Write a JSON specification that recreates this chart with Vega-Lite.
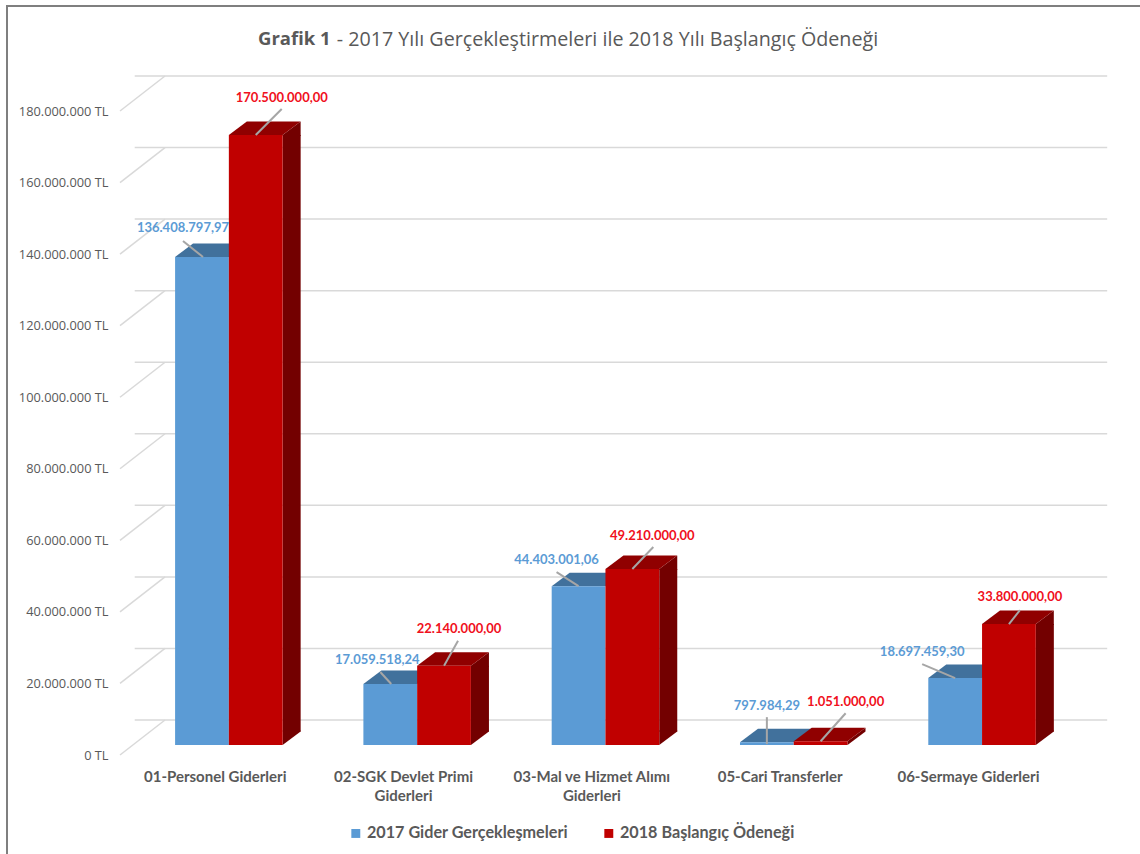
{"$schema":"https://vega.github.io/schema/vega-lite/v6.json","autosize":{"type":"none"},"padding":{"left":134.7,"top":101,"right":63.8,"bottom":109},"width":941.5,"height":644,"background":"white","config":{"view":{"stroke":null}},
"title":{"text":"Grafik 1","subtitle":"- 2017 Yılı Gerçekleştirmeleri ile 2018 Yılı Başlangıç Ödeneği","anchor":"start","frame":"group","dx":123.3,"offset":-48,"font":"Open Sans","fontSize":18.5,"fontWeight":"bold","color":"#595959","subtitleFont":"Open Sans","subtitleFontSize":19.7,"subtitleColor":"#595959","subtitlePadding":-19,"encode":{"subtitle":{"update":{"dx":{"value":202}}}}},
"data":{"values":[
{"category":"01-Personel Giderleri","series":"2017 Gider Gerçekleşmeleri","value":136408797.97,"label":"136.408.797,97"},
{"category":"01-Personel Giderleri","series":"2018 Başlangıç Ödeneği","value":170500000,"label":"170.500.000,00"},
{"category":"02-SGK Devlet Primi Giderleri","series":"2017 Gider Gerçekleşmeleri","value":17059518.24,"label":"17.059.518,24"},
{"category":"02-SGK Devlet Primi Giderleri","series":"2018 Başlangıç Ödeneği","value":22140000,"label":"22.140.000,00"},
{"category":"03-Mal ve Hizmet Alımı Giderleri","series":"2017 Gider Gerçekleşmeleri","value":44403001.06,"label":"44.403.001,06"},
{"category":"03-Mal ve Hizmet Alımı Giderleri","series":"2018 Başlangıç Ödeneği","value":49210000,"label":"49.210.000,00"},
{"category":"05-Cari Transferler","series":"2017 Gider Gerçekleşmeleri","value":797984.29,"label":"797.984,29"},
{"category":"05-Cari Transferler","series":"2018 Başlangıç Ödeneği","value":1051000,"label":"1.051.000,00"},
{"category":"06-Sermaye Giderleri","series":"2017 Gider Gerçekleşmeleri","value":18697459.30,"label":"18.697.459,30"},
{"category":"06-Sermaye Giderleri","series":"2018 Başlangıç Ödeneği","value":33800000,"label":"33.800.000,00"}]},
"layer":[
{"data":{"values":[{"tick":0},{"tick":20000000},{"tick":40000000},{"tick":60000000},{"tick":80000000},{"tick":100000000},{"tick":120000000},{"tick":140000000},{"tick":160000000},{"tick":180000000}]},
"encoding":{"y":{"field":"tick","type":"quantitative","scale":{"domain":[0,180000000],"nice":false,"zero":true},"axis":{"title":null,"values":[0,20000000,40000000,60000000,80000000,100000000,120000000,140000000,160000000,180000000],"domain":false,"ticks":false,"grid":false,"labelPadding":26.7,"labelOffset":10,"labelFont":"Open Sans","labelFontSize":12.8,"labelColor":"#595959","labelExpr":"replace(format(datum.value,','),/,/g,'.')+' TL'"}}},
"layer":[
{"mark":{"type":"rule","color":"#d9d9d9","strokeWidth":1.5,"xOffset":31,"x2Offset":35.5,"yOffset":-25}},
{"mark":{"type":"point","shape":"M-108.85 10L-63.85 -25","size":4,"filled":false,"stroke":"#d9d9d9","strokeWidth":1.5,"opacity":1},"encoding":{"x":{"datum":"01-Personel Giderleri"}}}
]},
{"mark":{"type":"point","shape":"M911.15 -95L-221.85 -95L-221.85 753","size":4,"filled":false,"stroke":"#7f7f7f","strokeWidth":2,"opacity":1},"transform":[{"filter":"datum.label=='170.500.000,00'"}],"encoding":{"x":{"datum":"01-Personel Giderleri"},"y":{"datum":180000000}}},
{"encoding":{"x":{"field":"category","type":"nominal","sort":null,"scale":{"domain":["01-Personel Giderleri","02-SGK Devlet Primi Giderleri","03-Mal ve Hizmet Alımı Giderleri","05-Cari Transferler","06-Sermaye Giderleri"],"paddingInner":0.429,"paddingOuter":0.2145},"axis":{"title":null,"domain":false,"ticks":false,"labelAngle":0,"labelAlign":"center","labelPadding":24,"labelOffset":-13.6,"labelFont":"Lato","labelFontWeight":"bold","labelFontSize":15,"labelColor":"#595959","labelLineHeight":19,"labelLimit":300,"labelBaseline":"top","labelExpr":"datum.label=='02-SGK Devlet Primi Giderleri'?['02-SGK Devlet Primi','Giderleri']:datum.label=='03-Mal ve Hizmet Alımı Giderleri'?['03-Mal ve Hizmet Alımı','Giderleri']:datum.label"}},
"xOffset":{"field":"series","type":"nominal","sort":null,"scale":{"domain":["2017 Gider Gerçekleşmeleri","2018 Başlangıç Ödeneği"]}},
"y":{"field":"value","type":"quantitative"}},
"layer":[
{"transform":[{"filter":"datum.series=='2017 Gider Gerçekleşmeleri'"}],"mark":{"type":"point","shape":"M-26.9 0L-8.9 -13.5L44.9 -13.5L26.9 0Z","size":4,"filled":true,"fill":"#41719c","stroke":null,"opacity":1}},
{"transform":[{"filter":"datum.series=='2017 Gider Gerçekleşmeleri'"}],"mark":{"type":"bar"},"encoding":{"color":{"field":"series","type":"nominal","sort":null,"scale":{"domain":["2017 Gider Gerçekleşmeleri","2018 Başlangıç Ödeneği"],"range":["#5b9bd5","#c00000"]},"legend":{"title":null,"orient":"none","legendX":213,"legendY":724,"direction":"horizontal","symbolType":"square","symbolSize":80,"symbolOpacity":1,"labelFont":"Lato","labelFontWeight":"bold","labelFontSize":16.2,"labelColor":"#595959","labelLimit":300,"labelOffset":3,"columnPadding":32,"padding":0}}}},
{"transform":[{"filter":"datum.series=='2018 Başlangıç Ödeneği'&&datum.value>5000000"}],"mark":{"type":"rule","strokeWidth":18,"xOffset":62.8,"y2Offset":-13.5,"color":"#730000"},"encoding":{"xOffset":null,"y2":{"datum":0}}},
{"transform":[{"filter":"datum.series=='2018 Başlangıç Ödeneği'&&datum.value>5000000"}],"mark":{"type":"point","shape":"M26.9 0L44.9 -13.5L44.9 1L26.9 1Z","size":4,"filled":true,"fill":"#730000","stroke":null,"opacity":1}},
{"transform":[{"filter":"datum.series=='2018 Başlangıç Ödeneği'&&datum.value>5000000"}],"mark":{"type":"point","shape":"M26.9 0L44.9 -13.5L44.9 -14.5L26.9 -14.5Z","size":4,"filled":true,"fill":"#730000","stroke":null,"opacity":1},"encoding":{"y":{"datum":0}}},
{"transform":[{"filter":"datum.series=='2018 Başlangıç Ödeneği'&&datum.value<5000000"}],"mark":{"type":"point","shape":"M26.9 0L44.9 -13.5L44.9 -9.7L26.9 3.8Z","size":4,"filled":true,"fill":"#730000","stroke":null,"opacity":1}},
{"transform":[{"filter":"datum.series=='2018 Başlangıç Ödeneği'"}],"mark":{"type":"point","shape":"M-26.9 0L-8.9 -13.5L44.9 -13.5L26.9 0Z","size":4,"filled":true,"fill":"#900000","stroke":null,"opacity":1}},
{"transform":[{"filter":"datum.series=='2018 Başlangıç Ödeneği'"}],"mark":{"type":"bar"},"encoding":{"color":{"field":"series","type":"nominal","sort":null}}},
{"transform":[{"filter":"datum.label=='136.408.797,97'"}],"layer":[{"mark":{"type":"point","shape":"M-19 -16L1 0","size":4,"filled":false,"stroke":"#a6a6a6","opacity":1}},{"mark":{"type":"text","dx":-19,"dy":-29,"font":"Lato","fontWeight":"bold","fontSize":13,"color":"#5b9bd5"},"encoding":{"text":{"field":"label"}}}]},
{"transform":[{"filter":"datum.label=='170.500.000,00'"}],"layer":[{"mark":{"type":"point","shape":"M26 -26L0 0","size":4,"filled":false,"stroke":"#a6a6a6","opacity":1}},{"mark":{"type":"text","dx":26,"dy":-37,"font":"Lato","fontWeight":"bold","fontSize":13,"color":"#f01020"},"encoding":{"text":{"field":"label"}}}]},
{"transform":[{"filter":"datum.label=='17.059.518,24'"}],"layer":[{"mark":{"type":"point","shape":"M-10 -12L1 0","size":4,"filled":false,"stroke":"#a6a6a6","opacity":1}},{"mark":{"type":"text","dx":-13,"dy":-24,"font":"Lato","fontWeight":"bold","fontSize":13,"color":"#5b9bd5"},"encoding":{"text":{"field":"label"}}}]},
{"transform":[{"filter":"datum.label=='22.140.000,00'"}],"layer":[{"mark":{"type":"point","shape":"M14 -25L0 0","size":4,"filled":false,"stroke":"#a6a6a6","opacity":1}},{"mark":{"type":"text","dx":15,"dy":-37,"font":"Lato","fontWeight":"bold","fontSize":13,"color":"#f01020"},"encoding":{"text":{"field":"label"}}}]},
{"transform":[{"filter":"datum.label=='44.403.001,06'"}],"layer":[{"mark":{"type":"point","shape":"M-22 -14L0 0","size":4,"filled":false,"stroke":"#a6a6a6","opacity":1}},{"mark":{"type":"text","dx":-22,"dy":-26,"font":"Lato","fontWeight":"bold","fontSize":13,"color":"#5b9bd5"},"encoding":{"text":{"field":"label"}}}]},
{"transform":[{"filter":"datum.label=='49.210.000,00'"}],"layer":[{"mark":{"type":"point","shape":"M21 -22L0 0","size":4,"filled":false,"stroke":"#a6a6a6","opacity":1}},{"mark":{"type":"text","dx":20,"dy":-33,"font":"Lato","fontWeight":"bold","fontSize":13,"color":"#f01020"},"encoding":{"text":{"field":"label"}}}]},
{"transform":[{"filter":"datum.label=='797.984,29'"}],"layer":[{"mark":{"type":"point","shape":"M0 -25L0 2","size":4,"filled":false,"stroke":"#a6a6a6","opacity":1}},{"mark":{"type":"text","dx":0,"dy":-36,"font":"Lato","fontWeight":"bold","fontSize":13,"color":"#5b9bd5"},"encoding":{"text":{"field":"label"}}}]},
{"transform":[{"filter":"datum.label=='1.051.000,00'"}],"layer":[{"mark":{"type":"point","shape":"M25 -28L0 0","size":4,"filled":false,"stroke":"#a6a6a6","opacity":1}},{"mark":{"type":"text","dx":25,"dy":-39,"font":"Lato","fontWeight":"bold","fontSize":13,"color":"#f01020"},"encoding":{"text":{"field":"label"}}}]},
{"transform":[{"filter":"datum.label=='18.697.459,30'"}],"layer":[{"mark":{"type":"point","shape":"M-33 -14L0 0","size":4,"filled":false,"stroke":"#a6a6a6","opacity":1}},{"mark":{"type":"text","dx":-33,"dy":-26,"font":"Lato","fontWeight":"bold","fontSize":13,"color":"#5b9bd5"},"encoding":{"text":{"field":"label"}}}]},
{"transform":[{"filter":"datum.label=='33.800.000,00'"}],"layer":[{"mark":{"type":"point","shape":"M11 -14L0 0","size":4,"filled":false,"stroke":"#a6a6a6","opacity":1}},{"mark":{"type":"text","dx":11,"dy":-27,"font":"Lato","fontWeight":"bold","fontSize":13,"color":"#f01020"},"encoding":{"text":{"field":"label"}}}]}
]}
]}
